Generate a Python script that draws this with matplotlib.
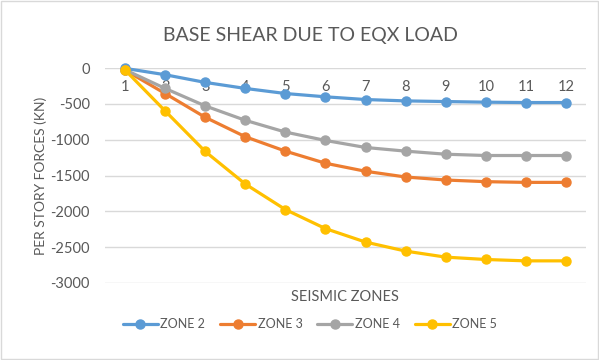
import matplotlib
matplotlib.use("Agg")
from matplotlib import pyplot as plt
from matplotlib.patches import Rectangle

plt.rcParams['font.family'] = ['Lato', 'DejaVu Sans']
plt.rcParams['axes.unicode_minus'] = False

# data
zones = [1, 2, 3, 4, 5, 6, 7, 8, 9, 10, 11, 12]
zone2 = [-5, -94, -201, -285, -356, -402, -440, -459, -468, -477, -482, -482]
zone3 = [-30, -356, -688, -959, -1160, -1329, -1441, -1521, -1563, -1586, -1596, -1596]
zone4 = [-25, -285, -529, -730, -894, -1011, -1109, -1160, -1203, -1221, -1221, -1221]
zone5 = [-28, -599, -1165, -1619, -1975, -2241, -2429, -2555, -2639, -2672, -2691, -2691]
series_names = ['ZONE 2', 'ZONE 3', 'ZONE 4', 'ZONE 5']
colors = ['#5B9BD5', '#ED7D31', '#A5A5A5', '#FFC000']

txt = '#595959'
grid = '#D9D9D9'

fig = plt.figure(figsize=(5.99, 3.60), dpi=100)
fig.patches.append(Rectangle((0.002, 0.002), 0.996, 0.996, transform=fig.transFigure,
                             fill=False, edgecolor=grid, linewidth=1))

ax = fig.add_axes([105 / 599, 1 - 283 / 360, (586 - 105) / 599, (283 - 68) / 360])

for vals, name, c in zip([zone2, zone3, zone4, zone5], series_names, colors):
    ax.plot(zones, vals, color=c, lw=2.3, marker='o', markersize=6.5, label=name,
            solid_capstyle='round', clip_on=False)

ax.set_xlim(0.5, 12.5)
ax.set_ylim(-3000, 0)
ax.set_yticks(range(-3000, 1, 500))
ax.yaxis.grid(True, color=grid, lw=1)
ax.set_axisbelow(True)
for s in ax.spines.values():
    s.set_visible(False)

ax.set_xticks(zones)
ax.set_xticklabels([str(z) for z in zones])
ax.tick_params(axis='x', bottom=False, labelbottom=False, top=False, labeltop=True,
               length=0, pad=-19, labelsize=10.5, labelcolor=txt)
ax.tick_params(axis='y', length=0, pad=11, labelsize=10.5, labelcolor=txt)

ax.set_ylabel('PER STORY FORCES (KN)', color=txt, fontsize=10, labelpad=2)
fig.text(345 / 599, 1 - 297 / 360, 'SEISMIC ZONES', ha='center', va='center',
         color=txt, fontsize=10.5)
fig.text(310 / 599, 1 - 35 / 360, 'BASE SHEAR DUE TO EQX LOAD', ha='center', va='center',
         color=txt, fontsize=14)

leg = fig.legend(loc='center', bbox_to_anchor=(310 / 599, 1 - 324 / 360), ncol=4,
                 frameon=False, fontsize=9, handlelength=2.8, columnspacing=1.2,
                 handletextpad=0.2)
for t in leg.get_texts():
    t.set_color(txt)

fig.savefig('out.png', dpi=100)
